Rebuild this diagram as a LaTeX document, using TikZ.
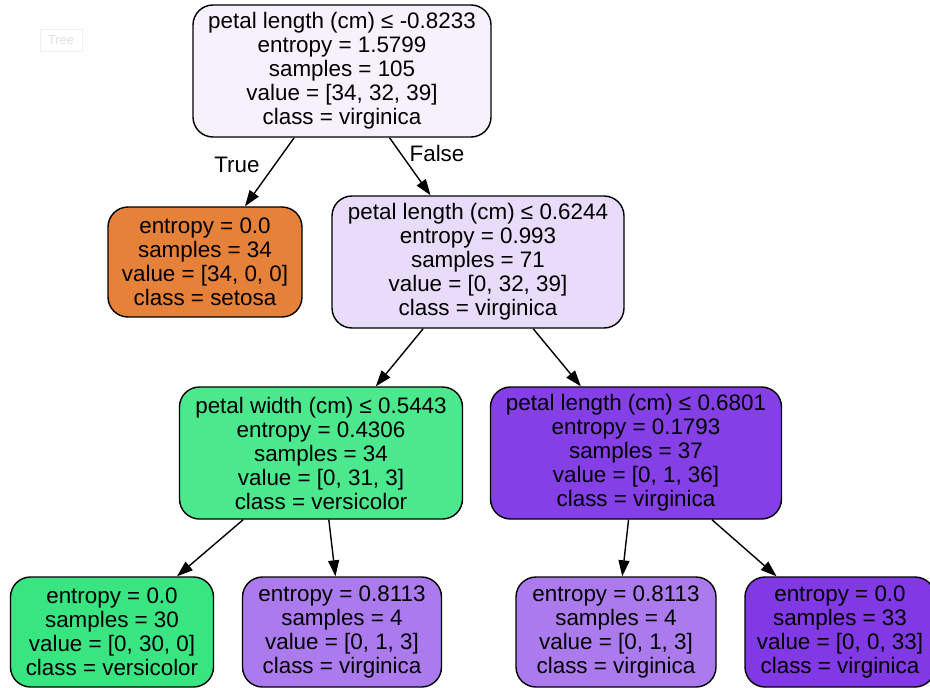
\documentclass[tikz,border=0pt]{standalone}
\usepackage{fontspec}
\setmainfont{Liberation Sans}
\usepackage{tikz}
\usetikzlibrary{arrows.meta}
\definecolor{rootfill}{HTML}{F6F1FD}
\definecolor{setosafill}{HTML}{E58139}
\definecolor{splitfill}{HTML}{E8DCFA}
\definecolor{greenfill}{HTML}{4CE88D}
\definecolor{purplefill}{HTML}{853FE6}
\definecolor{pureleaf}{HTML}{39E581}
\definecolor{mixleaf}{HTML}{AB7BEE}
\definecolor{virgleaf}{HTML}{8139E5}

\begin{document}
\begin{tikzpicture}[x=1pt,y=-1pt,
    treenode/.style={draw, line width=1.4pt, rounded corners=20pt, align=center,
        font=\fontsize{22.4}{24}\selectfont, inner sep=0pt},
    splitnode/.style={treenode, minimum height=132pt},
    leafnode/.style={treenode, minimum height=110pt},
    edge/.style={line width=1.4pt, -{Triangle[length=16pt,width=11pt]}}]
    \useasboundingbox (0,0) rectangle (930,688);

    % faint tooltip box
    \node[draw=black!6, text=black!12, font=\fontsize{13}{13}\selectfont,
        minimum width=42pt, minimum height=22pt, inner sep=0pt] (tip) at (61,40) {Tree};

    % split nodes
    \node[splitnode, fill=rootfill, minimum width=298pt] (root) at (342,71)
        {petal length (cm) ≤ -0.8233\\entropy = 1.5799\\samples = 105\\value = [34, 32, 39]\\class = virginica};
    \node[splitnode, fill=splitfill, minimum width=292pt] (split2) at (478,262)
        {petal length (cm) ≤ 0.6244\\entropy = 0.993\\samples = 71\\value = [0, 32, 39]\\class = virginica};
    \node[splitnode, fill=greenfill, minimum width=283pt] (split3) at (321,453)
        {petal width (cm) ≤ 0.5443\\entropy = 0.4306\\samples = 34\\value = [0, 31, 3]\\class = versicolor};
    \node[splitnode, fill=purplefill, minimum width=291pt] (split4) at (636,453)
        {petal length (cm) ≤ 0.6801\\entropy = 0.1793\\samples = 37\\value = [0, 1, 36]\\class = virginica};

    % leaves
    \node[leafnode, fill=setosafill, minimum width=194pt] (leaf1) at (205,262)
        {entropy = 0.0\\samples = 34\\value = [34, 0, 0]\\class = setosa};
    \node[leafnode, fill=pureleaf, minimum width=203pt] (leaf2) at (112,632)
        {entropy = 0.0\\samples = 30\\value = [0, 30, 0]\\class = versicolor};
    \node[leafnode, fill=mixleaf, minimum width=199pt] (leaf3) at (342,632)
        {entropy = 0.8113\\samples = 4\\value = [0, 1, 3]\\class = virginica};
    \node[leafnode, fill=mixleaf, minimum width=200pt] (leaf4) at (616,632)
        {entropy = 0.8113\\samples = 4\\value = [0, 1, 3]\\class = virginica};
    \node[leafnode, fill=virgleaf, minimum width=190pt] (leaf5) at (840,632)
        {entropy = 0.0\\samples = 33\\value = [0, 0, 33]\\class = virginica};

    % edges
    \draw[edge] (root) -- (leaf1);
    \draw[edge] (root) -- (split2);
    \draw[edge] (split2) -- (split3);
    \draw[edge] (split2) -- (split4);
    \draw[edge] (split3) -- (leaf2);
    \draw[edge] (split3) -- (leaf3);
    \draw[edge] (split4) -- (leaf4);
    \draw[edge] (split4) -- (leaf5);

    \node[font=\fontsize{22.4}{24}\selectfont] (truelbl) at (237,165) {True};
    \node[font=\fontsize{22.4}{24}\selectfont] (falselbl) at (437,153) {False};
\end{tikzpicture}
\end{document}
